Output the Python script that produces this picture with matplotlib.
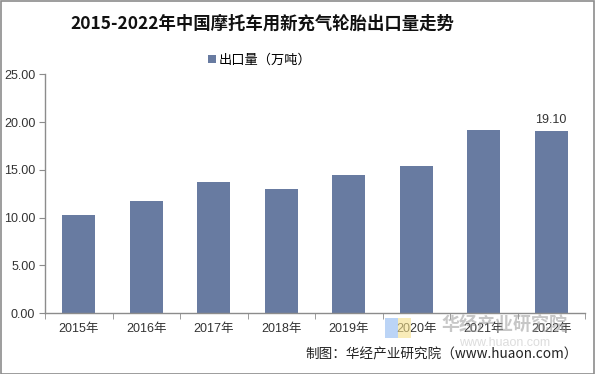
import matplotlib.pyplot as plt
from matplotlib.patches import Rectangle

plt.rcParams["font.family"] = ["Liberation Sans", "Noto Sans CJK SC", "DejaVu Sans"]

years = ["2015年", "2016年", "2017年", "2018年", "2019年", "2020年", "2021年", "2022年"]
exports = [10.3, 11.7, 13.75, 13.0, 14.5, 15.4, 19.2, 19.1]
y_ticks = [0, 5, 10, 15, 20, 25]

bar_color = "#687ba1"
axis_color = "#8c8c8c"

fig = plt.figure(figsize=(5.95, 3.74), dpi=100)
ax = fig.add_axes([45 / 595, 1 - 313 / 374, 540 / 595, (313 - 74.5) / 374])

x = list(range(len(years)))
ax.bar(x, exports, width=0.49, color=bar_color, label="出口量（万吨）", zorder=2)
ax.text(x[-1], exports[-1] + 0.5, f"{exports[-1]:.2f}", ha="center", va="bottom",
        fontsize=9, color="#333333")

ax.set_xlim(-0.5, len(years) - 0.5)
ax.set_ylim(0, 25)
ax.set_yticks(y_ticks)
ax.set_yticklabels([f"{v:.2f}" for v in y_ticks], fontsize=9, color="#333333")
ax.set_xticks(x)
ax.set_xticklabels(years, fontsize=9, color="#333333")
ax.set_xticks([i - 0.5 for i in range(len(years) + 1)], minor=True)
ax.tick_params(axis="x", which="major", length=0, pad=7)
ax.tick_params(axis="x", which="minor", length=4, color=axis_color)
ax.tick_params(axis="y", length=4, color=axis_color, pad=3)

for side in ("top", "right"):
    ax.spines[side].set_visible(False)
for side in ("left", "bottom"):
    ax.spines[side].set_color(axis_color)
    ax.spines[side].set_linewidth(1.0)

fig.text(262 / 595, 1 - 24 / 374, "2015-2022年中国摩托车用新充气轮胎出口量走势", ha="center", va="center",
         fontsize=12.5, fontweight="bold", family=["Noto Sans CJK SC", "DejaVu Sans"], color="#111111")

leg = ax.legend(loc="center", bbox_to_anchor=(260 / 595, 1 - 60 / 374), bbox_transform=fig.transFigure,
                frameon=False, fontsize=9.5, handlelength=0.6, handleheight=0.6, handletextpad=0.2)
for t in leg.get_texts():
    t.set_family(["Noto Sans CJK SC", "DejaVu Sans"])

# watermark
fig.patches.append(Rectangle((385 / 595, 1 - 338 / 374), 13 / 595, 20 / 374, transform=fig.transFigure,
                             facecolor="#8fb8f0", alpha=0.6, edgecolor="none", zorder=5))
fig.patches.append(Rectangle((398 / 595, 1 - 338 / 374), 13 / 595, 20 / 374, transform=fig.transFigure,
                             facecolor="#f5e08a", alpha=0.6, edgecolor="none", zorder=5))
fig.text(505 / 595, 1 - 325 / 374, "华经产业研究院", ha="center", va="center", fontsize=13,
         fontweight="bold", color="#999999", alpha=0.55, family=["Noto Sans CJK SC"], zorder=6)
fig.text(505 / 595, 1 - 343 / 374, "www.huaon.com", ha="center", va="center", fontsize=9,
         color="#bbbbbb", alpha=0.5, zorder=6)

fig.text(578 / 595, 1 - 355 / 374, "制图：华经产业研究院（www.huaon.com）", ha="right", va="center",
         fontsize=9.8, color="#222222", family=["Noto Sans CJK SC", "DejaVu Sans"], zorder=7)

fig.patches.append(Rectangle((0.5 / 595, 0.5 / 374), 593.5 / 595, 372.5 / 374, transform=fig.transFigure,
                             facecolor="none", edgecolor="#8c8c8c", linewidth=1.2, zorder=10))

fig.savefig("out.png", dpi=100)
